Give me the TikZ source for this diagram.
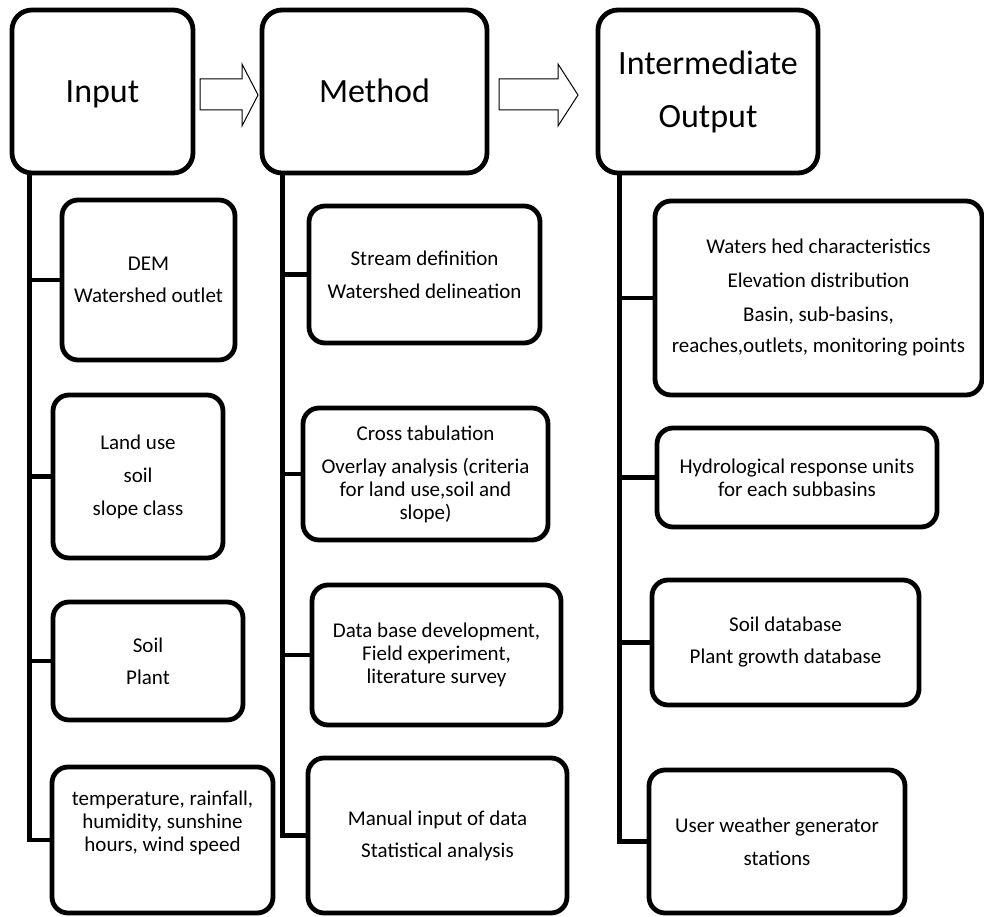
\documentclass[tikz,border=0pt]{standalone}
\usepackage{fontspec}
\setmainfont{Carlito}
\begin{document}
\begin{tikzpicture}[x=1pt,y=-1pt,
  head/.style={draw=black, line width=4.8pt, rounded corners=20pt, fill=white,
    inner sep=0pt, align=center, font=\fontsize{34}{53}\selectfont},
  oneline/.style={text height=22pt, text depth=0pt},
  box/.style={draw=black, line width=4.8pt, rounded corners=16pt, fill=white,
    inner sep=0pt, align=center, font=\fontsize{21}{23}\selectfont},
  txt/.style={inner sep=0pt, align=center, font=\fontsize{21}{23}\selectfont},
  link/.style={draw=black, line width=4.8pt},
  blockarrow/.style={draw=black, line width=1pt, fill=white, line join=miter}]
\useasboundingbox (0,0) rectangle (984,917);

% headers
\node[head, oneline, minimum width=181pt, minimum height=163pt] (in) at (102.5,91.5) {Input};
\node[head, oneline, minimum width=225pt, minimum height=163pt] (me) at (374.5,91.5) {Method};
\node[head, minimum width=220pt, minimum height=163pt] (io) at (708,91.5) {Intermediate\\Output};

% block arrows
\draw[blockarrow] (200,79) -- (242,79) -- (242,64) -- (258,95) -- (242,126) -- (242,110) -- (200,110) -- cycle;
\draw[blockarrow] (499,79) -- (558,79) -- (558,64) -- (578,95) -- (558,126) -- (558,110) -- (499,110) -- cycle;

% input children
\node[box, minimum width=173pt, minimum height=160pt] (dem) at (148.5,280) {DEM\\[9pt]Watershed outlet};
\node[box, minimum width=170pt, minimum height=163pt] (land) at (138,476.5) {Land use\\[10pt]soil\\[10pt]slope class};
\node[box, minimum width=190pt, minimum height=118pt] (soil) at (148,661) {Soil\\[9pt]Plant};
\node[box, minimum width=221pt, minimum height=146pt] (temp) at (162.5,840) {};
\node[txt] (temptxt) at ([yshift=17pt]temp.center) {temperature, rainfall,\\humidity, sunshine\\hours, wind speed};

% method children
\node[box, minimum width=231pt, minimum height=137pt] (stream) at (424.5,274.5) {Stream definition\\[10pt]Watershed delineation};
\node[box, minimum width=245pt, minimum height=132pt] (cross) at (425.5,474) {Cross tabulation\\[10pt]Overlay analysis (criteria\\for land use,soil and\\slope)};
\node[box, minimum width=249pt, minimum height=140pt] (data) at (436.5,655) {Data base development,\\Field experiment,\\literature survey};
\node[box, minimum width=259pt, minimum height=155pt] (manual) at (437.5,835.5) {Manual input of data\\[9pt]Statistical analysis};

% intermediate output children
\node[box, minimum width=327pt, minimum height=194pt] (ws) at (818.5,298) {Waters hed characteristics\\[11pt]Elevation distribution\\[11pt]Basin, sub-basins,\\[8pt]reaches,outlets, monitoring points};
\node[box, minimum width=280pt, minimum height=99pt] (hru) at (797,477.5) {Hydrological response units\\for each subbasins};
\node[box, minimum width=267pt, minimum height=125pt] (sdb) at (785.5,642.5) {Soil database\\[9pt]Plant growth database};
\node[box, minimum width=256pt, minimum height=143pt] (uw) at (777,841.5) {User weather generator\\[10pt]stations};

% trunk coordinates
\coordinate (inb) at ([xshift=20pt]in.south west);
\coordinate (meb) at ([xshift=23pt]me.south west);
\coordinate (iob) at ([xshift=24pt]io.south west);

% trunks and branches
\draw[link] (inb) |- (temp.west);
\draw[link] (inb |- dem.west) -- (dem.west);
\draw[link] (inb |- land.west) -- (land.west);
\draw[link] (inb |- soil.west) -- (soil.west);

\draw[link] (meb) |- (manual.west);
\draw[link] (meb |- stream.west) -- (stream.west);
\draw[link] (meb |- cross.west) -- (cross.west);
\draw[link] (meb |- data.west) -- (data.west);

\draw[link] (iob) |- (uw.west);
\draw[link] (iob |- ws.west) -- (ws.west);
\draw[link] (iob |- hru.west) -- (hru.west);
\draw[link] (iob |- sdb.west) -- (sdb.west);
\end{tikzpicture}
\end{document}
